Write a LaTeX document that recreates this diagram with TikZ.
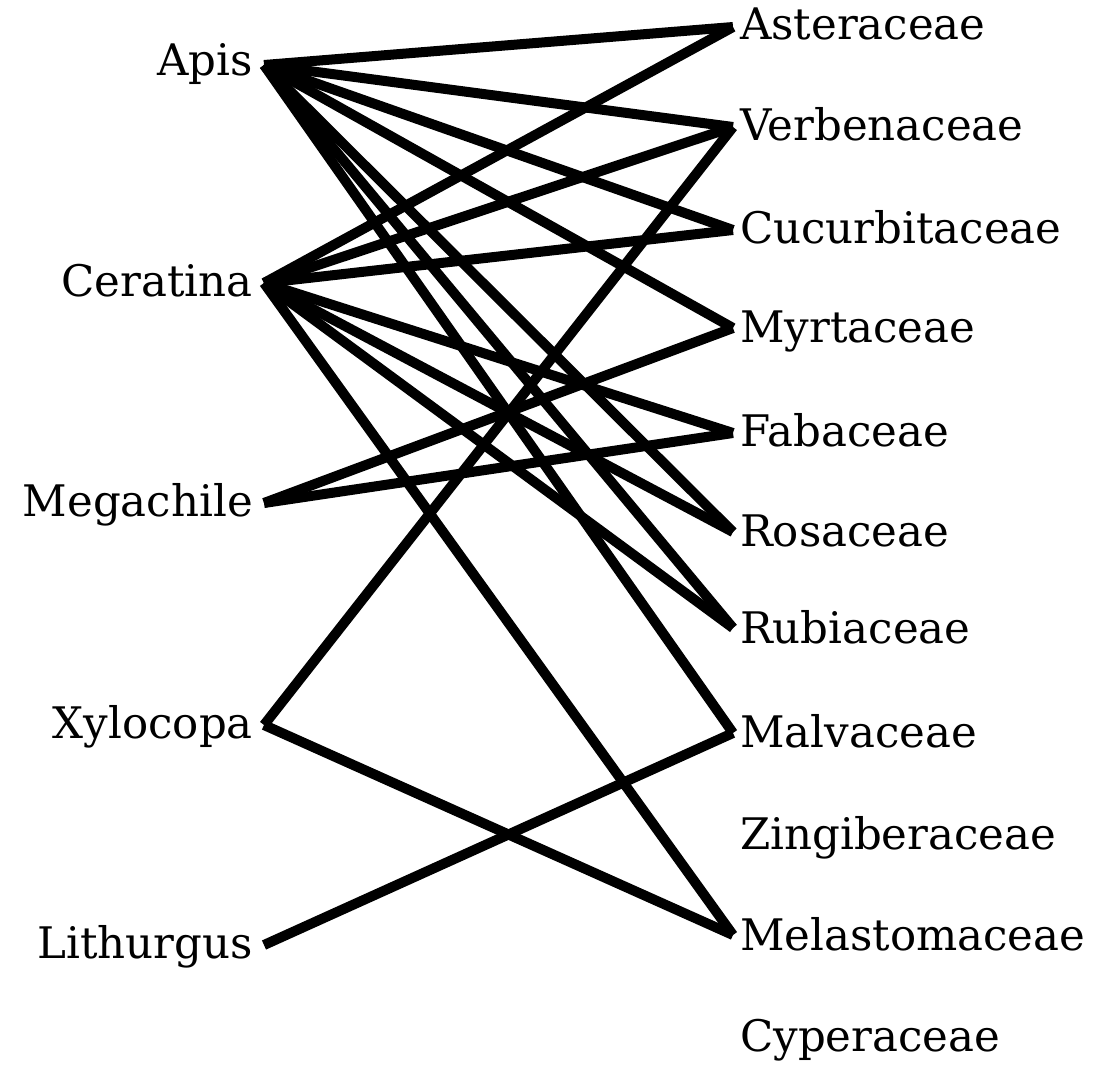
\documentclass[tikz,border=0pt]{standalone}
\usepackage{fontspec}
\setmainfont{DejaVu Serif}
\begin{document}
\begin{tikzpicture}[x=1pt,y=-1pt,
  edge/.style={line width=10pt,line cap=butt,black},
  beelabel/.style={anchor=base east,inner sep=0pt,font=\fontsize{43.5}{50}\selectfont},
  plantlabel/.style={anchor=base west,inner sep=0pt,font=\fontsize{43.5}{50}\selectfont}]
\useasboundingbox (0,0) rectangle (1104,1066);
% endpoints
\coordinate (apis) at (264,65);
\coordinate (cera) at (264,283);
\coordinate (mega) at (264,503);
\coordinate (xylo) at (264,725);
\coordinate (lith) at (264,945);
\coordinate (aste) at (733,27);
\coordinate (verb) at (733,127);
\coordinate (cucu) at (733,230);
\coordinate (myrt) at (733,328);
\coordinate (faba) at (733,433);
\coordinate (rosa) at (733,532);
\coordinate (rubi) at (733,628);
\coordinate (malv) at (733,733);
\coordinate (zing) at (733,835);
\coordinate (mela) at (733,935);
\coordinate (cype) at (733,1038);
% labels
\node[beelabel] (Lapis) at (253,75) {Apis};
\node[beelabel] (Lcera) at (253,296) {Ceratina};
\node[beelabel] (Lmega) at (253,516) {Megachile};
\node[beelabel] (Lxylo) at (253,738) {Xylocopa};
\node[beelabel] (Llith) at (253,958) {Lithurgus};
\node[plantlabel] (Laste) at (740,39) {Asteraceae};
\node[plantlabel] (Lverb) at (740,140) {Verbenaceae};
\node[plantlabel] (Lcucu) at (740,243) {Cucurbitaceae};
\node[plantlabel] (Lmyrt) at (740,342) {Myrtaceae};
\node[plantlabel] (Lfaba) at (740,446) {Fabaceae};
\node[plantlabel] (Lrosa) at (740,546) {Rosaceae};
\node[plantlabel] (Lrubi) at (740,643) {Rubiaceae};
\node[plantlabel] (Lmalv) at (740,747) {Malvaceae};
\node[plantlabel] (Lzing) at (740,849) {Zingiberaceae};
\node[plantlabel] (Lmela) at (740,950) {Melastomaceae};
\node[plantlabel] (Lcype) at (740,1051) {Cyperaceae};
% edges
\foreach \p in {aste,verb,cucu,myrt,rosa,rubi,malv} \draw[edge] (apis) -- (\p);
\foreach \p in {aste,verb,cucu,faba,rosa,rubi,mela} \draw[edge] (cera) -- (\p);
\foreach \p in {myrt,faba} \draw[edge] (mega) -- (\p);
\foreach \p in {verb,mela} \draw[edge] (xylo) -- (\p);
\draw[edge] (lith) -- (malv);
\end{tikzpicture}
\end{document}
